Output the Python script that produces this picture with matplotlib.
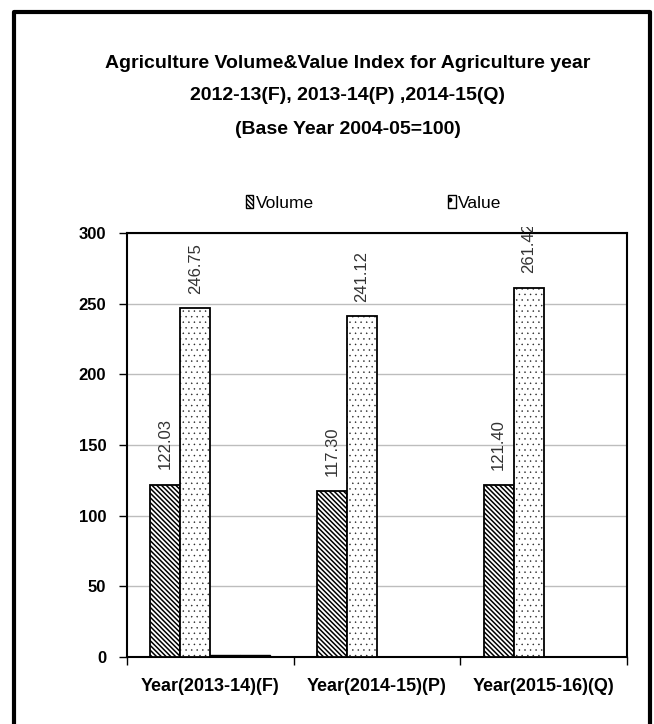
import matplotlib
matplotlib.use('Agg')
import matplotlib.pyplot as plt
import numpy as np
from matplotlib.patches import Rectangle
from matplotlib.transforms import Bbox

plt.rcParams['font.family'] = ['Liberation Sans', 'DejaVu Sans']

categories = ['Year(2013-14)(F)', 'Year(2014-15)(P)', 'Year(2015-16)(Q)']
volume = [122.03, 117.30, 121.40]
value = [246.75, 241.12, 261.42]
extra1 = [1.5, 0, 0]
extra2 = [1.5, 0, 0]
volume_labels = ['122.03', '117.30', '121.40']
value_labels = ['246.75', '241.12', '261.42']
yticks = [0, 50, 100, 150, 200, 250, 300]

W, H = 654, 724
fig = plt.figure(figsize=(W / 100, H / 100), dpi=100)

# outer frame (bottom edge runs off the picture)
fig.add_artist(plt.Line2D([14 / W, 14 / W, 650 / W, 650 / W],
                          [0, 1 - 12 / H, 1 - 12 / H, 0],
                          transform=fig.transFigure, color='black', lw=3))

ax = fig.add_axes([127 / W, 1 - 657 / H, (627 - 127) / W, (657 - 233) / H])

VOL_HATCH = '\\' * 7
VAL_HATCH = '...'


def set_hlw(bars, lw):
    for b in bars:
        try:
            b.set_hatch_linewidth(lw)
        except AttributeError:
            pass


x = np.arange(len(categories))
w = 0.18
with plt.rc_context({'hatch.linewidth': 1.1}):
    b1 = ax.bar(x - 1.5 * w, volume, w, color='white', edgecolor='black',
                hatch=VOL_HATCH, lw=1.3, zorder=3)
set_hlw(b1, 1.1)
with plt.rc_context({'hatch.linewidth': 0.3}):
    b2 = ax.bar(x - 0.5 * w, value, w, color='white', edgecolor='#222222',
                hatch=VAL_HATCH, lw=0, zorder=3)
set_hlw(b2, 0.3)
ax.bar(x - 0.5 * w, value, w, color='none', edgecolor='black', lw=1.3, zorder=3.5)
ax.bar(x + 0.5 * w, extra1, w, color='black', edgecolor='black', lw=1, zorder=3)
ax.bar(x + 1.5 * w, extra2, w, color='black', edgecolor='black', lw=1, zorder=3)

clip = Bbox.from_extents(0, 0, W, H - 227)
for i in range(len(categories)):
    ax.text(x[i] - 1.5 * w, volume[i] + 11, volume_labels[i], rotation=90,
            ha='center', va='bottom', fontsize=12, color='#333333', zorder=4)
    t = ax.text(x[i] - 0.5 * w, value[i] + 10, value_labels[i], rotation=90,
                ha='center', va='bottom', fontsize=12, color='#333333', zorder=4)
    t.set_clip_path(None)
    t.set_clip_box(clip)
    t.set_clip_on(True)

ax.set_xlim(-0.5, 2.5)
ax.set_ylim(0, 300)
ax.set_yticks(yticks)
ax.set_yticklabels([str(v) for v in yticks], fontsize=12, fontweight='bold')
ax.set_xticks([-0.5, 0.5, 1.5, 2.5])
ax.set_xticklabels([])
ax.set_xticks(x, minor=True)
ax.set_xticklabels(categories, minor=True, fontsize=13, fontweight='bold')
ax.tick_params(axis='x', which='minor', length=0, pad=15)
ax.tick_params(axis='x', which='major', length=6, width=1, direction='out')
ax.tick_params(axis='y', length=6, width=1, direction='out', pad=9)
ax.grid(axis='y', color='#bdbdbd', lw=1, zorder=0)
for s in ax.spines.values():
    s.set_linewidth(1.5)
    s.set_color('black')

# legend
h1 = Rectangle((0, 0), 1, 1, facecolor='white', edgecolor='black', hatch=VOL_HATCH)
h2 = Rectangle((0, 0), 1, 1, facecolor='white', edgecolor='black', hatch='.')
fig.legend([h1, h2], ['Volume', 'Value'], loc='center left',
           bbox_to_anchor=(237 / W, 1 - 203 / H), ncol=2, frameon=False,
           fontsize=12.5, handlelength=0.45, handleheight=0.7, borderpad=0,
           handletextpad=0.15, columnspacing=7.7)

title_lines = ['Agriculture Volume&Value Index for Agriculture year',
               '2012-13(F), 2013-14(P) ,2014-15(Q)',
               '(Base Year 2004-05=100)']
for ty, line in zip([63, 96, 129], title_lines):
    fig.text(348 / W, 1 - ty / H, line, ha='center', va='center',
             fontsize=14, fontweight='bold')

fig.savefig('out.png', dpi=100)
